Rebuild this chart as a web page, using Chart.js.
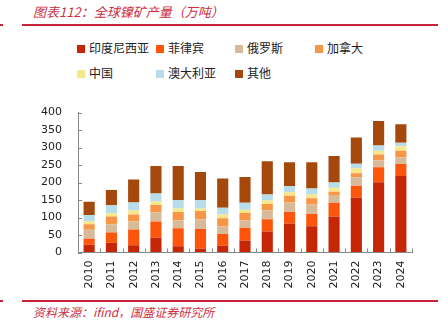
<!DOCTYPE html>
<html>
<head>
<meta charset="utf-8">
<script src="https://cdn.jsdelivr.net/npm/chart.js@4"></script>
<style>
  body { margin: 0; background: #fff; width: 448px; height: 323px; position: relative; overflow: hidden; font-family: "Noto Sans CJK SC", sans-serif; }
  .title { position: absolute; left: 33px; top: 2px; font-size: 13px; font-style: italic; color: #cc2f45; white-space: nowrap; }
  .src { position: absolute; left: 33px; top: 303px; font-size: 12px; font-style: italic; color: #cc2f45; white-space: nowrap; }
  .rule { position: absolute; height: 1.5px; background: #c8213a; }
  .legend { position: absolute; left: 0; top: 0; }
  .item { position: absolute; font-size: 12px; color: #222; white-space: nowrap; line-height: 14px; }
  .item i { display: inline-block; width: 8px; height: 8px; margin-right: 4px; vertical-align: 0px; }
  #wrap { position: absolute; left: 0; top: 90px; width: 448px; height: 205px; }
</style>
</head>
<body>
<div class="title">图表112：全球镍矿产量（万吨）</div>
<div class="rule" style="left:0;top:24px;width:3px"></div>
<div class="rule" style="left:22px;top:24px;width:416px"></div>
<div class="legend" id="legend"></div>
<div id="wrap"><canvas id="nickelChart"></canvas></div>
<div class="rule" style="left:0;top:300px;width:3px"></div>
<div class="rule" style="left:22px;top:300px;width:416px"></div>
<div class="src">资料来源：ifind，国盛证券研究所</div>
<script>
const years = ["2010","2011","2012","2013","2014","2015","2016","2017","2018","2019","2020","2021","2022","2023","2024"];

const indonesia   = [22, 28, 21, 43, 18, 11, 19.5, 34, 60, 83, 75, 103, 157, 201, 219];
const philippines = [17, 29, 44.5, 45.5, 51, 56, 33.5, 37, 35, 33, 35, 39, 34, 43, 34];
const russia      = [26, 24, 23.5, 26.5, 23, 28, 21, 21, 26, 27, 27, 20, 24, 19, 19];
const canada      = [16, 22, 20, 21, 24, 24, 24, 21, 18, 19, 18, 12, 11.5, 17.5, 19];
const china       = [8, 9, 11, 10, 10, 7, 11, 9, 10, 10.6, 11, 11, 13.5, 10.5, 12.6];
const australia   = [18, 23, 23, 23, 24, 24, 19, 20, 17, 17.4, 17, 15, 14, 15, 10.4];
const other       = [38, 44, 66, 78, 97, 80, 83.5, 74, 95, 68, 75, 76, 75, 70, 53];

const yTicks = [0, 50, 100, 150, 200, 250, 300, 350, 400];

const series = [
  { label: "印度尼西亚", data: indonesia,   color: "#c52606" },
  { label: "菲律宾",     data: philippines, color: "#fd560c" },
  { label: "俄罗斯",     data: russia,      color: "#d8ba98" },
  { label: "加拿大",     data: canada,      color: "#f79646" },
  { label: "中国",       data: china,       color: "#f8e68c" },
  { label: "澳大利亚",   data: australia,   color: "#b8dde8" },
  { label: "其他",       data: other,       color: "#a4480c" }
];

// legend laid out as a grid, like the original
const legendPos = [[77,41],[156,41],[235,41],[315,41],[77,66],[156,66],[235,66]];
const legend = document.getElementById("legend");
series.forEach((s, i) => {
  const d = document.createElement("div");
  d.className = "item";
  d.style.left = legendPos[i][0] + "px";
  d.style.top = legendPos[i][1] + "px";
  d.innerHTML = '<i style="background:' + s.color + '"></i>' + s.label;
  legend.appendChild(d);
});

// short inward tick marks
const innerTicks = {
  id: "innerTicks",
  afterDraw(chart) {
    const ctx = chart.ctx;
    const x = chart.scales.x, y = chart.scales.y;
    ctx.save();
    ctx.strokeStyle = "#888";
    ctx.lineWidth = 1;
    ctx.beginPath();
    y.ticks.forEach(t => {
      const py = Math.round(y.getPixelForValue(t.value)) + 0.5;
      ctx.moveTo(x.left, py);
      ctx.lineTo(x.left + 4, py);
    });
    const w = (x.right - x.left) / years.length;
    for (let i = 0; i <= years.length; i++) {
      const px = Math.round(x.left + i * w) + 0.5;
      ctx.moveTo(px, y.bottom);
      ctx.lineTo(px, y.bottom - 4);
    }
    ctx.stroke();
    ctx.restore();
  }
};

new Chart(document.getElementById("nickelChart"), {
  type: "bar",
  data: {
    labels: years,
    datasets: series.map(s => ({
      label: s.label,
      data: s.data,
      backgroundColor: s.color,
      borderWidth: 0,
      categoryPercentage: 0.5,
      barPercentage: 1
    }))
  },
  options: {
    responsive: true,
    maintainAspectRatio: false,
    animation: false,
    layout: { padding: { top: 12, right: 36, left: 0, bottom: 0 } },
    plugins: { legend: { display: false }, tooltip: { enabled: false } },
    scales: {
      x: {
        stacked: true,
        grid: { color: "rgba(0,0,0,0)", drawTicks: false },
        border: { color: "#888", width: 1 },
        ticks: { minRotation: 90, maxRotation: 90, padding: 8, color: "#222", font: { family: "DejaVu Sans", size: 11 } },
        afterFit(scale) { scale.height = 42.5; }
      },
      y: {
        stacked: true,
        min: 0,
        max: 400,
        grid: { color: "rgba(0,0,0,0)", drawTicks: false },
        border: { color: "#888", width: 1 },
        afterBuildTicks(scale) { scale.ticks = yTicks.map(v => ({ value: v })); },
        ticks: { padding: 16, color: "#222", font: { family: "DejaVu Sans", size: 11 } },
        afterFit(scale) { scale.width = 78; }
      }
    }
  },
  plugins: [innerTicks]
});
</script>
</body>
</html>
